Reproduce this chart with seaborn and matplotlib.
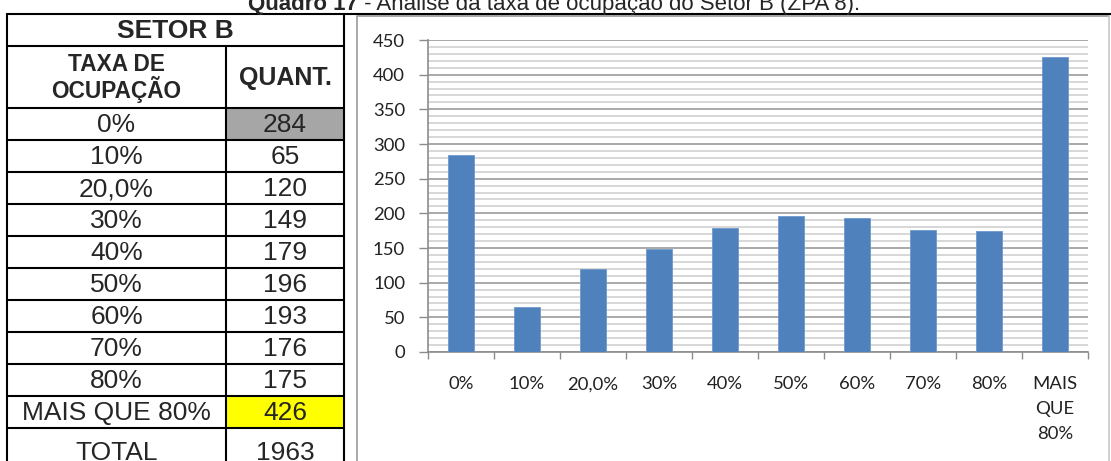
import matplotlib
matplotlib.use("Agg")
import matplotlib.pyplot as plt
from matplotlib.ticker import MultipleLocator, FixedLocator
import seaborn as sns
import pandas as pd

# Occupancy-rate classes and counts for sector B
categories = ["0%", "10%", "20,0%", "30%", "40%", "50%", "60%", "70%", "80%", "MAIS QUE 80%"]
axis_labels = ["0%", "10%", "20,0%", "30%", "40%", "50%", "60%", "70%", "80%", "MAIS\nQUE\n80%"]
counts = [284, 65, 120, 149, 179, 196, 193, 176, 175, 426]
total = sum(counts)

title_bold = "Quadro 17"
title_rest = " - Análise da taxa de ocupação do Setor B (ZPA 8)."

sns.set_theme(style="white")
plt.rcParams["font.family"] = ["Liberation Sans", "DejaVu Sans"]

W, H = 1111, 461
fig = plt.figure(figsize=(W / 100, H / 100), dpi=100)
fig.patch.set_facecolor("white")

# Full-figure layer in pixel coordinates for the table and frames
base = fig.add_axes([0, 0, 1, 1])
base.set_xlim(0, W)
base.set_ylim(H, 0)
base.axis("off")

LW = 1.5
x_left, x_mid, x_right = 7, 226, 344
y_top, y_sector, y_head = 14, 46, 108
row_h = 32

# table fills
fills = {0: "#a6a6a6", 9: "#ffff00"}
for i, c in fills.items():
    base.add_patch(plt.Rectangle((x_mid, y_head + i * row_h), x_right - x_mid, row_h,
                                 facecolor=c, edgecolor="none", zorder=1))

# grid lines of the table
base.plot([x_left, W], [y_top, y_top], color="black", lw=LW, zorder=3)
base.plot([x_left, x_left], [y_top, H + 5], color="black", lw=LW, zorder=3)
base.plot([x_right, x_right], [y_top, H + 5], color="black", lw=LW, zorder=3)
base.plot([x_mid, x_mid], [y_sector, H + 5], color="black", lw=LW, zorder=3)
for yy in [y_sector] + [y_head + k * row_h for k in range(len(counts) + 1)]:
    base.plot([x_left, x_right], [yy, yy], color="black", lw=LW, zorder=3)

# chart frame
base.plot([357, 357, 1109], [H + 5, 16, 16], color="#9a9a9a", lw=1.2, zorder=2)
base.plot([1109, 1109], [16, H + 5], color="#c8c8c8", lw=1.2, zorder=2)

fs = 19
cx_l = (x_left + x_mid) / 2
cx_r = (x_mid + x_right) / 2
base.text((x_left + x_right) / 2, (y_top + y_sector) / 2 + 1, "SETOR B", ha="center", va="center",
          fontsize=19, fontweight="bold", zorder=4)
base.text(cx_l, (y_sector + y_head) / 2 + 1, "TAXA DE\nOCUPAÇÃO", ha="center", va="center",
          fontsize=16.3, fontweight="bold", linespacing=1.0, zorder=4)
base.text(cx_r, (y_sector + y_head) / 2 + 1, "QUANT.", ha="center", va="center",
          fontsize=18, fontweight="bold", zorder=4)
for i, (cat, n) in enumerate(zip(categories, counts)):
    yc = y_head + i * row_h + row_h / 2 + 1
    base.text(cx_l, yc, cat, ha="center", va="center", fontsize=fs, zorder=4)
    base.text(cx_r, yc, str(n), ha="center", va="center", fontsize=fs, zorder=4)
base.text(cx_l, 460, "TOTAL", ha="center", va="baseline", fontsize=fs, zorder=4)
base.text(cx_r, 460, str(total), ha="center", va="baseline", fontsize=fs, zorder=4)

# title, partly cut at the top edge
t1 = base.text(248, 10, title_bold, ha="left", va="baseline", fontsize=16, fontweight="bold")
fig.canvas.draw()
bb = t1.get_window_extent(renderer=fig.canvas.get_renderer())
base.text(bb.x1, 10, title_rest, ha="left", va="baseline", fontsize=16)

# bar chart
x0, x1, ytop, ybot = 428, 1088, 40, 352
ax = fig.add_axes([x0 / W, 1 - ybot / H, (x1 - x0) / W, (ybot - ytop) / H])
df = pd.DataFrame({"taxa": categories, "quant": counts})
sns.barplot(data=df, x="taxa", y="quant", color="#4f81bd", saturation=1, width=0.4,
            edgecolor="#6d98cc", linewidth=0.6, ax=ax, zorder=3)
ax.set_facecolor("white")
ax.set_ylim(0, 450)
ax.set_xlim(-0.5, len(categories) - 0.5)
ax.yaxis.set_major_locator(MultipleLocator(50))
ax.yaxis.set_minor_locator(MultipleLocator(10))
ax.grid(which="minor", axis="y", color="#d4d4d4", lw=1.3, zorder=0)
ax.grid(which="major", axis="y", color="#a3a3a3", lw=1.3, zorder=0)
ax.grid(which="both", axis="x", visible=False)
ax.set_axisbelow(True)
for s in ["top", "right"]:
    ax.spines[s].set_visible(False)
for s in ["left", "bottom"]:
    ax.spines[s].set_color("#8c8c8c")
    ax.spines[s].set_linewidth(1.2)
ax.set_xlabel("")
ax.set_ylabel("")

tick_font = ["Lato", "DejaVu Sans"]
ax.set_xticks(range(len(categories)))
ax.set_xticklabels(axis_labels, fontsize=13.3, family=tick_font, color="#222222", linespacing=1.68, va="top")
ax.xaxis.set_minor_locator(FixedLocator([k - 0.5 for k in range(len(categories) + 1)]))
ax.tick_params(axis="x", which="major", length=0, pad=17.5)
ax.tick_params(axis="x", which="minor", length=5, width=1, color="#8c8c8c", direction="out", bottom=True)
ax.tick_params(axis="y", which="major", length=6.5, width=1, color="#8c8c8c", direction="out", left=True, pad=10)
ax.tick_params(axis="y", which="minor", length=0)
for lab in ax.get_yticklabels():
    lab.set_family(tick_font)
    lab.set_fontsize(13.3)
    lab.set_color("#222222")

fig.savefig("out.png", dpi=100, facecolor="white")
